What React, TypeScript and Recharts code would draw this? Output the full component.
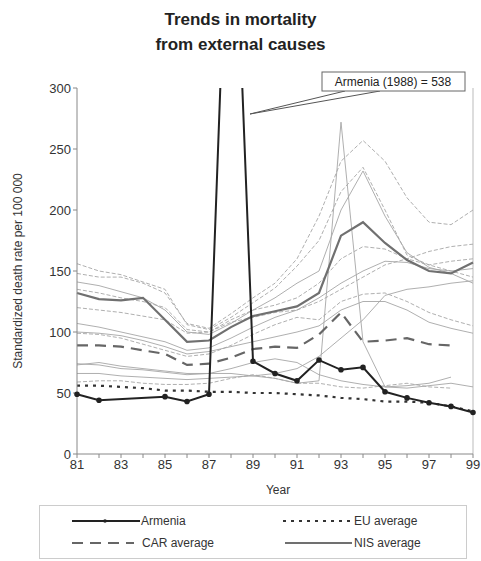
import { LineChart, Line, XAxis, YAxis, ReferenceLine } from "recharts";

const years = [81, 82, 83, 84, 85, 86, 87, 88, 89, 90, 91, 92, 93, 94, 95, 96, 97, 98, 99];
const yTicks = [0, 50, 100, 150, 200, 250, 300];

const armenia = [49, 44, null, null, 47, 43, 49, 538, 76, 66, 60, 77, 69, 71, 51, 46, 42, 39, 34];
const euAverage = [56, 56, 55, 54, 52, 52, 51, 51, 50, 50, 49, 48, 46, 45, 43, 43, 42, 39, 35];
const carAverage = [89, 89, 88, 85, 82, 73, 74, 79, 86, 88, 87, 98, 116, 92, 93, 95, 90, 89, null];
const nisAverage = [132, 127, 126, 128, 110, 92, 93, 104, 113, 117, 121, 132, 179, 190, 173, 159, 150, 148, 157];

// individual countries (thin grey lines)
const countries: (number | null)[][] = [
  [148, 145, 145, 140, 132, 107, 103, 115, 128, 140, 160, 195, 240, 257, 240, 210, 190, 188, 200],
  [73, 75, 72, 70, 68, 66, 66, 66, 64, 62, 58, 60, 272, 92, 55, 56, 58, 63, null],
  [156, 150, 147, 141, 135, 106, 102, 112, 124, 136, 154, 175, 215, 235, 200, 163, 155, 150, 145],
  [141, 138, 133, 128, 118, 100, 98, 107, 118, 128, 140, 150, 200, 232, 195, 165, 153, 148, 140],
  [120, 118, 116, 113, 110, 99, 100, 108, 112, 116, 118, 125, 135, 145, 155, 160, 166, 170, 172],
  [107, 104, 100, 96, 92, 85, 87, 95, 104, 112, 118, 128, 140, 150, 158, 157, 152, 150, 152],
  [99, 98, 95, 90, 85, 80, 82, 89, 98, 106, 112, 110, 125, 131, 132, 125, 116, 110, 105],
  [100, 99, 97, 93, 88, 82, 84, 88, 92, 96, 100, 105, 118, 125, 125, 118, 108, 103, 99],
  [59, 60, 60, 58, 57, 57, 58, 62, 65, 62, 58, 58, 55, 54, 56, 58, 55, 54, null],
  [66, 66, 64, 63, 62, 61, 62, 63, 64, 66, 70, 80, 95, 110, 130, 135, 137, 140, 142],
  [135, 132, 128, 125, 120, 102, 100, 110, 118, 122, 128, 140, 160, 170, 168, 160, 155, 158, 160],
  [74, 73, 70, 69, 67, 65, 66, 70, 75, 78, 75, 65, 60, 57, 55, 54, 56, 58, 55],
];

const data = years.map((year, i) => {
  const row: Record<string, number | null> = {
    year,
    armenia: armenia[i],
    eu: euAverage[i],
    car: carAverage[i],
    nis: nisAverage[i],
  };
  countries.forEach((c, k) => {
    row["c" + k] = c[i];
  });
  return row;
});

const font = "'Liberation Sans', Arial, sans-serif";

export default function App() {
  return (
    <div style={{ position: "absolute", left: 0, top: 0, width: 481, height: 561, background: "#fff", fontFamily: font, color: "#222" }}>
      <div style={{ position: "absolute", left: 0, width: 481, top: 7, textAlign: "center", fontSize: 17, fontWeight: "bold", lineHeight: "25px" }}>
        Trends in mortality
        <br />
        from external causes
      </div>

      <div style={{ position: "absolute", left: 0, top: 0 }}>
        <LineChart width={481} height={500} data={data} margin={{ top: 88, right: 8, left: 37, bottom: 16 }}>
          <XAxis
            dataKey="year"
            type="number"
            domain={[81, 99]}
            ticks={years}
            interval={0}
            tickFormatter={(v: number) => (v % 2 === 1 ? String(v) : "")}
            tick={{ fontSize: 13, fill: "#333", fontFamily: font }}
            stroke="#888"
            tickSize={4}
            height={30}
          />
          <YAxis
            type="number"
            domain={[0, 300]}
            ticks={yTicks}
            allowDataOverflow
            tick={{ fontSize: 13, fill: "#333", fontFamily: font }}
            stroke="#888"
            tickSize={4}
            width={40}
          />
          <ReferenceLine x={99} stroke="#bbb" />
          {countries.map((_, k) => (
            <Line
              key={k}
              dataKey={"c" + k}
              stroke="#a6a6a6"
              strokeWidth={0.9}
              strokeDasharray={k % 2 === 0 ? "4 2" : undefined}
              dot={false}
              isAnimationActive={false}
            />
          ))}
          <Line dataKey="nis" stroke="#707070" strokeWidth={2.2} dot={false} isAnimationActive={false} />
          <Line dataKey="car" stroke="#666" strokeWidth={2.2} strokeDasharray="11 7" dot={false} isAnimationActive={false} />
          <Line dataKey="eu" stroke="#333" strokeWidth={2.2} strokeDasharray="3 5" dot={false} isAnimationActive={false} />
          <Line
            dataKey="armenia"
            stroke="#222"
            strokeWidth={2}
            connectNulls
            dot={{ r: 1.8, fill: "#222", stroke: "#222" }}
            isAnimationActive={false}
          />
        </LineChart>
      </div>

      <svg width={481} height={561} style={{ position: "absolute", left: 0, top: 0, pointerEvents: "none" }}>
        <polyline points="345,91 250,114 380,91" fill="none" stroke="#555" strokeWidth={1} />
        <rect x={322} y={72} width={143} height={19} fill="#fff" stroke="#666" strokeWidth={1} />
        <text x={393} y={86} textAnchor="middle" fontSize={12} fontFamily={font} fill="#222">
          Armenia (1988) = 538
        </text>
      </svg>

      <div style={{ position: "absolute", left: 18, top: 271, transform: "translate(-50%, -50%) rotate(-90deg)", whiteSpace: "nowrap", fontSize: 12, color: "#333" }}>
        Standardized death rate per 100 000
      </div>
      <div style={{ position: "absolute", left: 278, top: 490, transform: "translate(-50%, -50%)", fontSize: 12, color: "#333" }}>
        Year
      </div>

      <svg width={428} height={54} style={{ position: "absolute", left: 39, top: 505 }}>
        <rect x={0.5} y={0.5} width={427} height={53} fill="#fff" stroke="#ccc" />
        <line x1={33} y1={16} x2={101} y2={16} stroke="#222" strokeWidth={2} />
        <circle cx={66} cy={16} r={1.8} fill="#222" />
        <text x={102} y={20} fontSize={12} fontFamily={font} fill="#333">Armenia</text>
        <line x1={244} y1={16} x2={313} y2={16} stroke="#333" strokeWidth={2} strokeDasharray="3 5" />
        <text x={315} y={20} fontSize={12} fontFamily={font} fill="#333">EU average</text>
        <line x1={33} y1={38} x2={95} y2={38} stroke="#666" strokeWidth={2} strokeDasharray="11 7" />
        <text x={103} y={42} fontSize={12} fontFamily={font} fill="#333">CAR average</text>
        <line x1={246} y1={38} x2={313} y2={38} stroke="#707070" strokeWidth={2} />
        <text x={315} y={42} fontSize={12} fontFamily={font} fill="#333">NIS average</text>
      </svg>
    </div>
  );
}
